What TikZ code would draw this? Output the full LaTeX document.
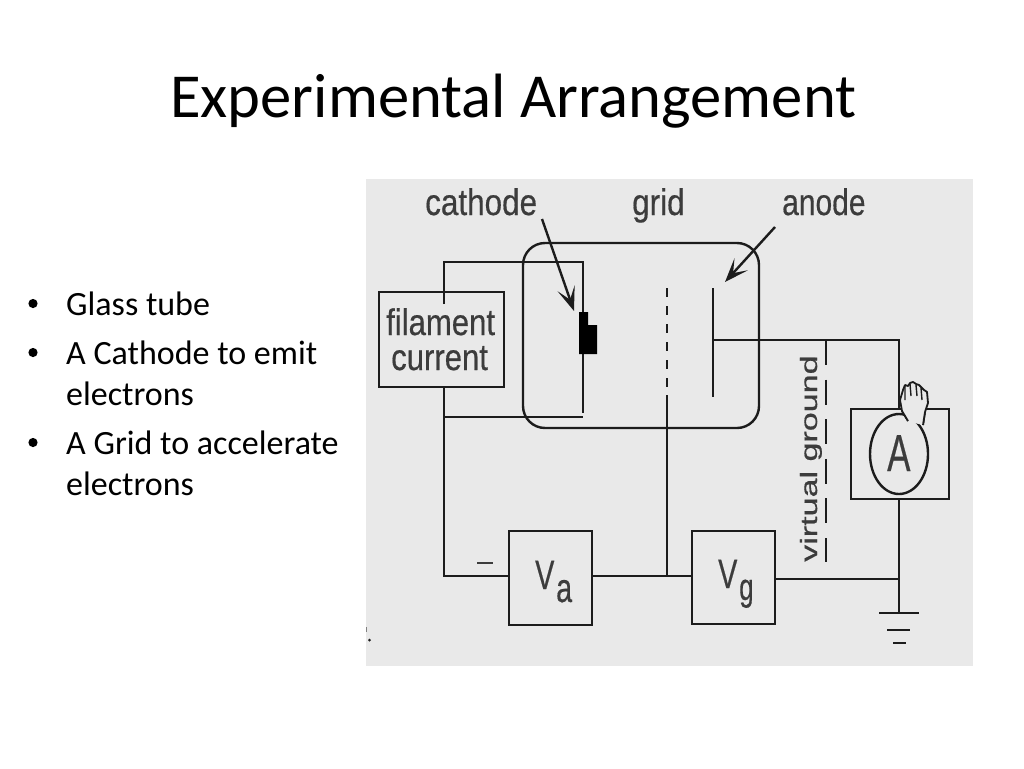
\documentclass[tikz,border=0pt]{standalone}
\usepackage{fontspec}
\usepackage{graphicx}
\setmainfont{Carlito}
\newfontfamily\labfont[FakeBold=0.5]{Liberation Sans}
\usetikzlibrary{arrows.meta,shapes.geometric}
\definecolor{panel}{HTML}{E9E9E9}
\definecolor{ink}{HTML}{1C1C1C}
\definecolor{labelink}{HTML}{3C3C3C}
\newcommand{\narrowtxt}[3]{{\labfont\fontsize{#1}{#1}\selectfont\scalebox{#2}[1]{#3}}}
\tikzset{
  wire/.style={draw=ink,line width=2.4pt},
  thinwire/.style={draw=ink,line width=2.1pt},
  boxnode/.style={draw=ink,line width=2.4pt,inner sep=0pt,outer sep=0pt,anchor=north west},
  lab/.style={anchor=base west,inner sep=0pt,text=labelink},
  slidetxt/.style={anchor=base west,inner sep=0pt,text=black,font=\fontsize{34}{36}\selectfont},
  pointer/.style={draw=ink,line width=2.4pt,-{Stealth[length=24pt,width=18pt,inset=12pt]}}
}
\begin{document}
\begin{tikzpicture}[x=1pt,y=-1pt]
\useasboundingbox (0,0) rectangle (1024,768);
\fill[white] (0,0) rectangle (1024,768);
\node[anchor=base west,inner sep=0pt,font=\fontsize{62.6}{64}\selectfont] (title) at (170,117) {Experimental Arrangement};
% bullets
\foreach \n/\y in {a/303.5,b/352.5,c/442.5}{\fill[black] (33,\y) circle (4.6pt);}
\node[slidetxt] (t1) at (66,315) {Glass tube};
\node[slidetxt] (t2) at (66,364) {A Cathode to emit};
\node[slidetxt] (t3) at (66,405) {electrons};
\node[slidetxt] (t4) at (66,454) {A Grid to accelerate};
\node[slidetxt] (t5) at (66,495) {electrons};
% panel
\fill[panel] (366,179) rectangle (973,666);
\fill[ink] (369.5,640) circle (1.5pt);
\draw[gray,line width=.8pt] (366.5,627) -- (366.5,632);
% boxes
\node[boxnode,minimum width=125pt,minimum height=95pt] (fil) at (379,292) {};
\node[boxnode,minimum width=83pt,minimum height=94pt] (va) at (509,531) {};
\node[boxnode,minimum width=83pt,minimum height=93pt] (vg) at (692,531) {};
\node[boxnode,minimum width=98pt,minimum height=90pt] (amm) at (851,409) {};
\node[boxnode,minimum width=236pt,minimum height=185pt,rounded corners=22pt] (tube) at (523,243) {};
% cathode
\coordinate (fin) at (444,304);
\coordinate (ftop) at (444,262);
\coordinate (ctop) at (583,262);
\coordinate (cbot) at (583,413);
\coordinate (fbot) at (444,417);
\coordinate (fbotr) at (583,417);
\coordinate (vaL) at (444,576);
\draw[wire] (fin) -- (ftop) -- (ctop) -- (cbot);
\draw[wire] (fil.south -| fbot) -- (vaL) -- (va.west |- vaL);
\draw[wire] (fbot) -- (fbotr);
\fill[black] (579,312) -- (588,312) -- (588,325) -- (597,325) -- (597,354) -- (579,354) -- cycle;
% grid
\coordinate (gtop) at (667,288);
\coordinate (gmid) at (667,395);
\coordinate (gbot) at (667,576);
\draw[wire,dash pattern=on 9pt off 9pt] (gtop) -- (gmid);
\draw[wire] (gmid) -- (gbot);
\draw[wire] (va.east |- gbot) -- (gbot) -- (vg.west |- gbot);
% anode
\coordinate (atop) at (713,288);
\coordinate (abot) at (713,397);
\coordinate (ajun) at (713,340);
\coordinate (acor) at (899,340);
\draw[wire] (atop) -- (abot);
\draw[wire] (ajun) -- (acor) -- (amm.north -| acor);
% virtual ground
\coordinate (vtop) at (826,340);
\coordinate (vbot) at (826,562);
\draw[thinwire,dash pattern=on 25pt off 14.6pt] (vtop) -- (vbot);
% ammeter, ground
\coordinate (gj) at (899,579);
\coordinate (g0) at (899,613);
\draw[wire] (amm.south -| gj) -- (g0);
\draw[wire] (vg.east |- gj) -- (gj);
\draw[wire] (879,613) -- (919,613);
\draw[wire] (887,630) -- (910,630);
\draw[wire] (893,643) -- (906,643);
\node[draw=ink,line width=2.4pt,ellipse,minimum width=58pt,minimum height=80pt,inner sep=0pt,outer sep=0pt] (ell) at (899,454) {};
% hand
\filldraw[fill=panel,draw=ink,line width=1.8pt,line join=round]
  (908,421) -- (902,411) -- (900,400) -- (903,390) -- (905,385) -- (908,386) -- (910,383) -- (913,382)
  -- (916,384) -- (919,385) -- (921,387) -- (924,390) -- (927,392) -- (928,403) -- (925,412) -- (923,425);
\fill[panel] (908,421) -- (923,425) -- (925,412) -- (902,411) -- cycle;
\draw[ink,line width=1.4pt] (905,386) -- (905,400) (910,384) -- (911,396) (916,385) -- (917,396) (921,388) -- (922,400);
\draw[ink,line width=1.8pt] (902,411) -- (908,421) (925,412) -- (923,425);
% arrows
\coordinate (ca0) at (542,219);
\coordinate (ca1) at (574,311);
\coordinate (an0) at (775,227);
\coordinate (an1) at (725,282);
\draw[pointer] (ca0) -- (ca1);
\draw[pointer] (an0) -- (an1);
% labels
\node[lab] (lcath) at (425,215) {\narrowtxt{37}{.85}{cathode}};
\node[lab] (lgrid) at (632,215) {\narrowtxt{37}{.85}{grid}};
\node[lab] (lanod) at (782,215) {\narrowtxt{37}{.81}{anode}};
\node[lab] (lfil) at (386,335) {\narrowtxt{37}{.84}{filament}};
\node[lab] (lcur) at (391,370) {\narrowtxt{37}{.84}{current}};
\node[lab] (lva) at (535,589) {\narrowtxt{41}{.7}{V}};
\node[lab] (lvas) at (556,602) {\narrowtxt{41}{.7}{a}};
\node[lab] (lvg) at (718,588) {\narrowtxt{41}{.7}{V}};
\node[lab] (lvgs) at (739,600) {\narrowtxt{38}{.68}{g}};
\node[lab] (la) at (887,471) {\narrowtxt{52}{.67}{A}};
\node[lab,rotate=90] (lvirt) at (817,562) {\narrowtxt{23.5}{1.45}{virtual ground}};
\draw[labelink,line width=2pt] (477,563) -- (493,563);
\end{tikzpicture}
\end{document}
